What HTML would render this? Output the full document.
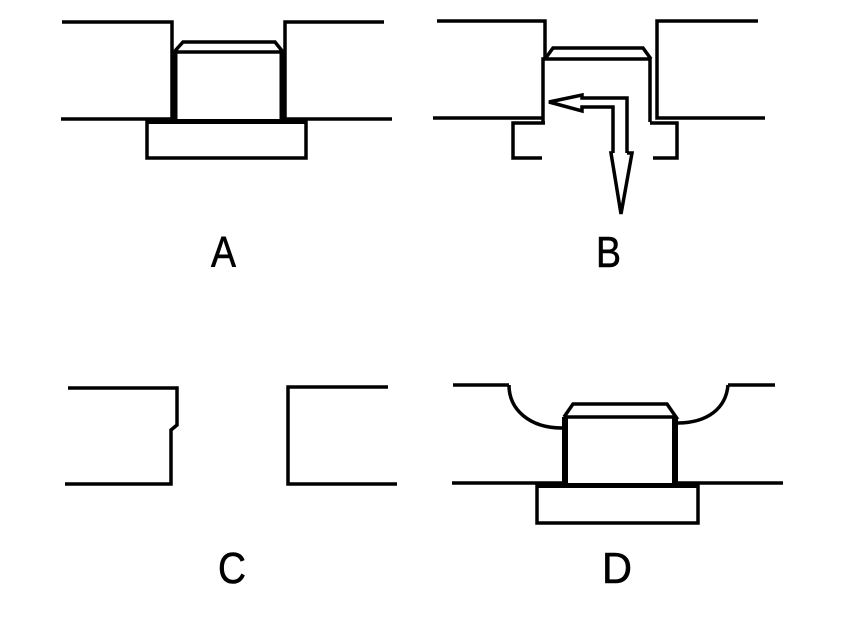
<!DOCTYPE html>
<html><head><meta charset="utf-8"><style>html,body{margin:0;padding:0;background:#fff}svg{display:block}</style></head>
<body>
<svg width="848" height="628" viewBox="0 0 848 628" xmlns="http://www.w3.org/2000/svg">
<g fill="none" stroke="#000" stroke-width="3.5" stroke-linejoin="miter" stroke-linecap="butt">
<!-- A -->
<polyline points="62,22 172,22 172,119"/>
<polyline points="61,119 172,119"/>
<polyline points="384,22 285,22 285,119 392,119"/>
<line x1="174.5" y1="52" x2="174.5" y2="121" stroke-width="6"/>
<line x1="282.5" y1="52" x2="282.5" y2="121" stroke-width="6"/>
<polyline points="174,52 183,42 275,42 283,52 174,52"/>
<rect x="147" y="121" width="159" height="37"/>
<line x1="147" y1="121.5" x2="306" y2="121.5" stroke-width="5"/>
<!-- B -->
<polyline points="437,21 545,21 545,59"/>
<polyline points="433,118 542,118"/>
<polyline points="758,21 657,21 657,118 765,118"/>
<polyline points="543,122 543,59 650,59 650,122"/>
<polyline points="545,59 553,48 643,48 651,59"/>
<polyline points="545,123 513,123 513,158 542,158"/>
<polyline points="650,123 677,123 677,158 653,158"/>
<!-- arrow -->
<polyline points="613,153 613,107 582,107 582,111 549,102 582,95 582,98 627,98 627,153"/>
<polyline points="613,153 611,153 621,214 632,153 627,153"/>
<!-- C -->
<polyline points="68,388 177,388 177,425 171,430 171,484 65,484"/>
<polyline points="388,387 288,387 288,484 397,484"/>
<!-- D -->
<polyline points="453,385 509,385"/>
<path d="M509 385 C 509 410 530 428 562 428"/>
<polyline points="775,385 728,385"/>
<path d="M728 385 C 726 408 708 423 677 423"/>
<line x1="565" y1="417" x2="565" y2="485" stroke-width="6"/>
<line x1="675" y1="417" x2="675" y2="485" stroke-width="6"/>
<polyline points="564,417 573,404 667,404 676,417 564,417"/>
<polyline points="452,483 566,483"/>
<polyline points="674,483 783,483"/>
<rect x="537" y="485" width="161" height="38"/>
<line x1="537" y1="485.5" x2="698" y2="485.5" stroke-width="5"/>
</g>
<g font-family="Liberation Sans, sans-serif" font-size="44" fill="#000" stroke="#000" stroke-width="0.6">
<text x="211" y="267" textLength="25" lengthAdjust="spacingAndGlyphs">A</text>
<text x="596" y="267" textLength="25" lengthAdjust="spacingAndGlyphs">B</text>
<text x="218" y="583" textLength="28" lengthAdjust="spacingAndGlyphs">C</text>
<text x="602" y="583" textLength="30" lengthAdjust="spacingAndGlyphs">D</text>
</g>
</svg>
</body></html>
